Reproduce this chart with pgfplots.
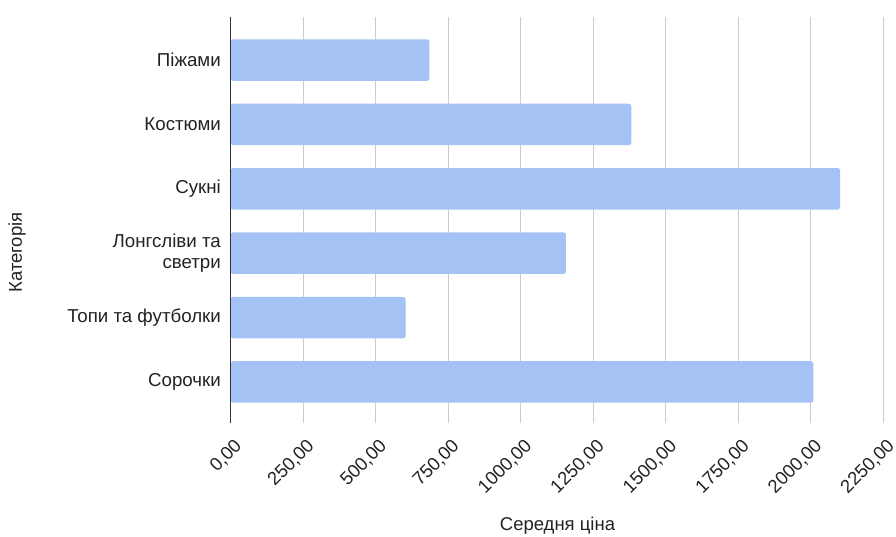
\documentclass[border=0pt]{standalone}
\usepackage{pgfplots}
\pgfplotsset{compat=1.18}
\usepackage{fontspec}
\setmainfont{Liberation Sans}

\definecolor{barblue}{HTML}{A4C2F4}
\definecolor{gridgray}{HTML}{CCCCCC}
\definecolor{axisdark}{HTML}{333333}
\definecolor{textdark}{HTML}{222222}

\begin{document}
\begin{tikzpicture}
\useasboundingbox (0pt,0pt) rectangle (896pt,-536pt);
\begin{axis}[
  at={(230.7pt,-423.3pt)}, anchor=south west,
  scale only axis, width=652.6pt, height=406.6pt,
  xbar, bar width=0.645,
  xmin=0, xmax=2250, ymin=-0.642, ymax=5.673,
  xtick={0,250,...,2250},
  ytick={0,...,5},
  yticklabels={Сорочки, Топи та футболки, {Лонгсліви та\\светри}, Сукні, Костюми, Піжами},
  axis line style={draw=none},
  major tick length=0pt,
  xmajorgrids, ymajorgrids=false,
  grid style={gridgray, line width=1.1pt},
  /pgf/number format/assume math mode=true,
  xticklabel style={
    font=\fontsize{18.5}{18.5}\selectfont, text=textdark,
    /pgf/number format/.cd, fixed, fixed zerofill, precision=2, use comma, 1000 sep={},
    /tikz/.cd, inner sep=0pt, xshift=8.2pt, yshift=-19.7pt, rotate=45, anchor=east},
  yticklabel style={
    font=\fontsize{18.7}{21.7}\selectfont, text=textdark,
    align=right, anchor=east, inner sep=0pt, xshift=-9.7pt},
  scaled x ticks=false,
  clip=false,
]
\addplot[fill=barblue, draw=none, rounded corners=2.5pt]
  coordinates {(2009,0) (603,1) (1156,2) (2101,3) (1381,4) (685,5)};
\draw[axisdark, line width=1.3pt] (axis cs:0,-0.642) -- (axis cs:0,5.673);
\end{axis}
\node[rotate=90, font=\fontsize{18.5}{18.5}\selectfont, text=textdark] at (17pt,-252.5pt) {Категорія};
\node[font=\fontsize{18.5}{18.5}\selectfont, text=textdark] at (557.5pt,-526pt) {Середня ціна};
\end{tikzpicture}
\end{document}
